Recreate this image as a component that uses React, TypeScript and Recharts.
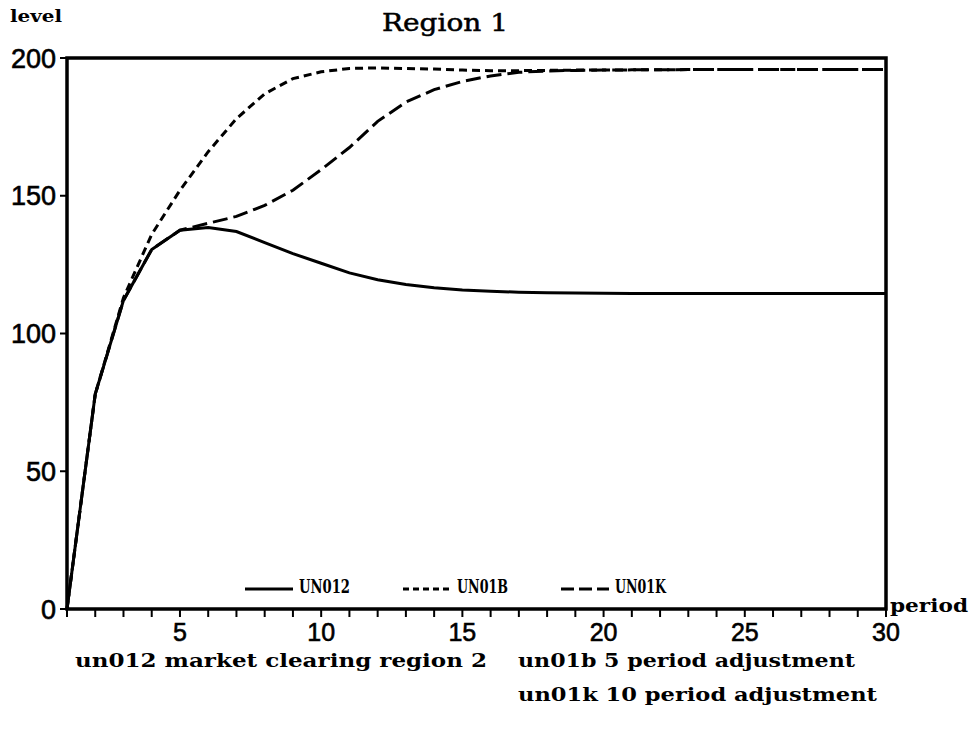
import React from 'react'
import { LineChart, Line, XAxis, YAxis, ReferenceArea } from 'recharts'

// periods 1..30
const periods = [1, 2, 3, 4, 5, 6, 7, 8, 9, 10, 11, 12, 13, 14, 15, 16, 17, 18, 19, 20, 21, 22, 23, 24, 25, 26, 27, 28, 29, 30]

// un012 market clearing region 2
const un012 = [0, 78, 112, 130.5, 137.5, 138.5, 137, 133, 129, 125.5, 122, 119.5, 117.8, 116.6, 115.8, 115.3, 115, 114.8, 114.7, 114.6, 114.5, 114.5, 114.5, 114.5, 114.5, 114.5, 114.5, 114.5, 114.5, 114.5]
// un01b 5 period adjustment
const un01b = [0, 78, 113, 136, 152, 166, 178, 187, 192.5, 195, 196.2, 196.4, 196.2, 196, 195.6, 195.4, 195.4, 195.5, 195.6, 195.6, 195.7, 195.7, 195.8, 195.8, 195.8, 195.8, 195.8, 195.8, 195.8, 195.8]
// un01k 10 period adjustment
const un01k = [0, 78, 112, 130.5, 137.5, 140, 142.5, 146.5, 152, 159.5, 167.5, 177, 184, 188.5, 191.5, 193.5, 194.8, 195.3, 195.5, 195.6, 195.7, 195.7, 195.8, 195.8, 195.8, 195.8, 195.8, 195.8, 195.8, 195.8]

const yTicks = [0, 50, 100, 150, 200]
const xLabelEvery = 5

const series = [
  { key: 'UN012', values: un012, dash: undefined as string | undefined, legendDash: undefined as string | undefined },
  { key: 'UN01B', values: un01b, dash: '8 5', legendDash: '6 4' },
  { key: 'UN01K', values: un01k, dash: '15 6', legendDash: '13 5' },
]

const data = periods.map((p, i) => {
  const row: Record<string, number> = { period: p }
  series.forEach(s => { row[s.key] = s.values[i] })
  return row
})

const serif = '"DejaVu Serif", "Liberation Serif", serif'
const sans = '"Liberation Sans", Arial, sans-serif'

const XTick = (props: any) => {
  const { x, y, payload } = props
  if (payload.value % xLabelEvery !== 0) return <g />
  return (
    <text x={x} y={y} dy="0.71em" textAnchor="middle" fontSize={25} fontFamily={sans} fill="#000" stroke="#000" strokeWidth={0.6}>
      {payload.value}
    </text>
  )
}

const YTick = (props: any) => {
  const { x, y, payload } = props
  return (
    <text x={x} y={y} dy="0.36em" textAnchor="end" fontSize={27} fontFamily={sans} fill="#000" stroke="#000" strokeWidth={0.6}>
      {payload.value}
    </text>
  )
}

// legend drawn as plain svg under the plot frame
const LegendRow = () => {
  let cx = 245
  return (
    <g>
      {series.map(s => {
        const x0 = cx
        cx += 48 + 6 + 52 + 52
        return (
          <g key={s.key}>
            <line x1={x0} x2={x0 + 48} y1={589} y2={589} stroke="#000" strokeWidth={3} strokeDasharray={s.legendDash} />
            <text x={x0 + 54} y={593} fontSize={19} fontWeight="bold" fontFamily={serif} textLength={51} lengthAdjust="spacingAndGlyphs">
              {s.key}
            </text>
          </g>
        )
      })}
    </g>
  )
}

const App = () => {
  return (
    <div style={{ position: 'absolute', left: 0, top: 0, width: 977, height: 736, background: '#fff' }}>
      <LineChart width={977} height={736} data={data} margin={{ top: 58, right: 91, left: 0, bottom: 87 }}>
        <XAxis
          dataKey="period"
          type="number"
          domain={[1, 30]}
          ticks={periods}
          interval={0}
          height={40}
          axisLine={false}
          tickLine={{ stroke: '#000', strokeWidth: 2 }}
          tickSize={8}
          tickMargin={6}
          tick={<XTick />}
        />
        <YAxis
          type="number"
          domain={[0, 200]}
          ticks={yTicks}
          width={67}
          axisLine={false}
          tickLine={{ stroke: '#000', strokeWidth: 2 }}
          tickSize={7}
          tickMargin={4}
          tick={<YTick />}
        />
        <ReferenceArea x1={1} x2={30} y1={0} y2={200} fill="none" stroke="#000" strokeWidth={3.5} ifOverflow="visible" />
        {series.map(s => (
          <Line
            key={s.key}
            type="linear"
            dataKey={s.key}
            stroke="#000"
            strokeWidth={3}
            strokeDasharray={s.dash}
            dot={false}
            isAnimationActive={false}
          />
        ))}
      </LineChart>
      <svg width={977} height={736} style={{ position: 'absolute', left: 0, top: 0, pointerEvents: 'none' }}>
        <text x={10} y={22} fontSize={16} fontWeight="bold" fontFamily={serif} textLength={52} lengthAdjust="spacingAndGlyphs">level</text>
        <text x={382} y={31} fontSize={25} fontFamily={serif} stroke="#000" strokeWidth={0.5} textLength={126} lengthAdjust="spacingAndGlyphs">Region 1</text>
        <LegendRow />
        <text x={890} y={612} fontSize={19} fontWeight="bold" fontFamily={serif} textLength={78} lengthAdjust="spacingAndGlyphs">period</text>
        <text x={75} y={667} fontSize={19} fontWeight="bold" fontFamily={serif} textLength={412} lengthAdjust="spacingAndGlyphs">un012 market clearing region 2</text>
        <text x={518} y={667} fontSize={19} fontWeight="bold" fontFamily={serif} textLength={337} lengthAdjust="spacingAndGlyphs">un01b 5 period adjustment</text>
        <text x={518} y={701} fontSize={19} fontWeight="bold" fontFamily={serif} textLength={359} lengthAdjust="spacingAndGlyphs">un01k 10 period adjustment</text>
      </svg>
    </div>
  )
}

export default App
